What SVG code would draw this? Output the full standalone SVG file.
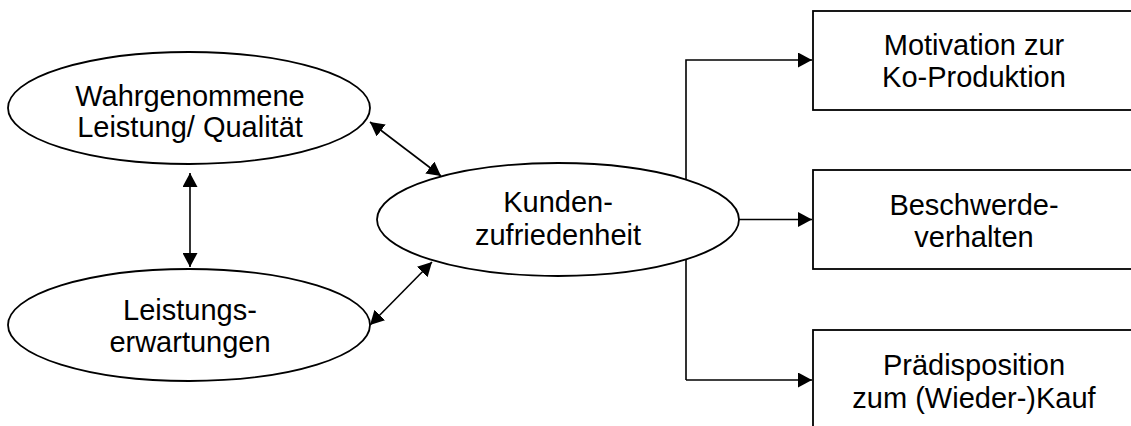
<svg xmlns="http://www.w3.org/2000/svg" width="1131" height="426" viewBox="0 0 1131 426">
  <style>
    .shape { fill: #fff; stroke: #000; stroke-width: 1.8; }
    .edge { fill: none; stroke: #000; stroke-width: 1.6; }
    .label { font-family: "Liberation Sans", Arial, sans-serif; font-size: 29px; fill: #000; text-anchor: middle; }
  </style>
  <defs>
    <marker id="arrow" markerUnits="userSpaceOnUse" markerWidth="15" markerHeight="15" refX="14" refY="7.5" orient="auto-start-reverse">
      <path d="M0,0 L14,7.5 L0,15 z" fill="#000"/>
    </marker>
  </defs>
  <rect width="1131" height="426" fill="#fff"/>

  <g id="connectors">
    <line class="edge" x1="190" y1="173" x2="190" y2="267" marker-start="url(#arrow)" marker-end="url(#arrow)"/>
    <line class="edge" x1="370" y1="122" x2="441" y2="176" marker-start="url(#arrow)" marker-end="url(#arrow)"/>
    <line class="edge" x1="370" y1="325" x2="432" y2="262" marker-start="url(#arrow)" marker-end="url(#arrow)"/>
    <line class="edge" x1="739" y1="219.5" x2="812" y2="219.5" marker-end="url(#arrow)"/>
    <polyline class="edge" points="686,380 686,60 812,60" marker-end="url(#arrow)"/>
    <line class="edge" x1="686" y1="380" x2="812" y2="380" marker-end="url(#arrow)"/>
  </g>

  <g id="wahrgenommene">
    <ellipse class="shape" cx="189" cy="108" rx="181" ry="56"/>
    <text class="label" x="190" y="106">Wahrgenommene</text>
    <text class="label" x="190" y="137">Leistung/ Qualität</text>
  </g>

  <g id="erwartungen">
    <ellipse class="shape" cx="189" cy="325" rx="181" ry="56"/>
    <text class="label" x="190" y="320">Leistungs-</text>
    <text class="label" x="190" y="352">erwartungen</text>
  </g>

  <g id="zufriedenheit">
    <ellipse class="shape" cx="558" cy="219.5" rx="181" ry="56.5"/>
    <text class="label" x="558" y="212">Kunden-</text>
    <text class="label" x="558" y="245">zufriedenheit</text>
  </g>

  <g id="koproduktion">
    <rect class="shape" x="813" y="11" width="330" height="99"/>
    <text class="label" x="974" y="55">Motivation zur</text>
    <text class="label" x="974" y="87">Ko-Produktion</text>
  </g>

  <g id="beschwerde">
    <rect class="shape" x="813" y="170" width="330" height="99"/>
    <text class="label" x="974" y="215">Beschwerde-</text>
    <text class="label" x="974" y="247">verhalten</text>
  </g>

  <g id="wiederkauf">
    <rect class="shape" x="813" y="330" width="330" height="110"/>
    <text class="label" x="974" y="375">Prädisposition</text>
    <text class="label" x="974" y="408">zum (Wieder-)Kauf</text>
  </g>
</svg>
